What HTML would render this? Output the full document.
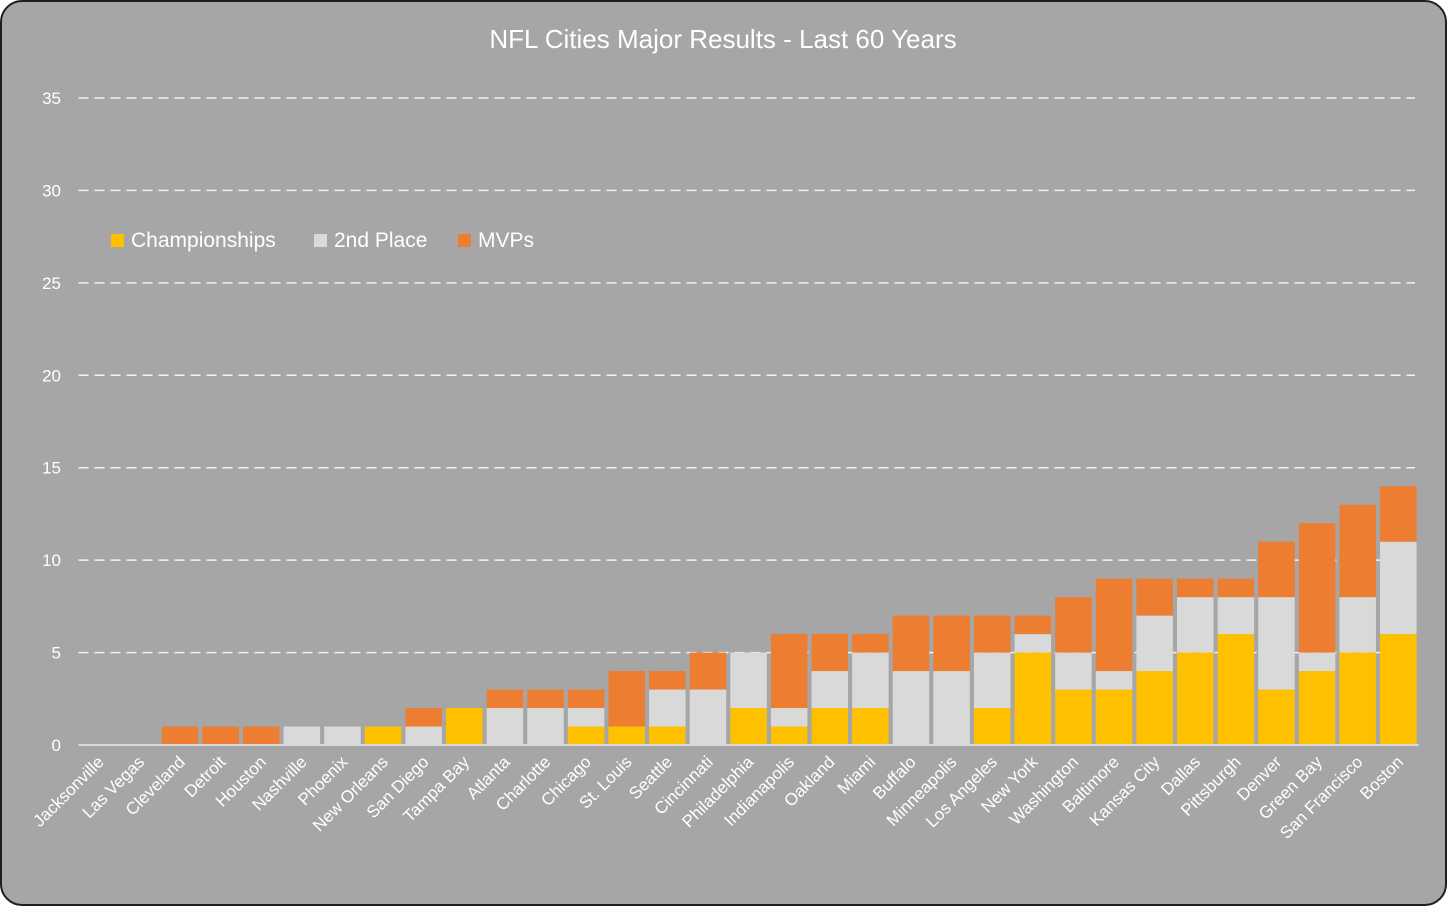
<!DOCTYPE html>
<html><head><meta charset="utf-8"><style>
html,body{margin:0;padding:0;background:#fff;}
#frame{position:absolute;left:0;top:0;width:1443px;height:902px;background:#a6a6a6;border:2px solid #1e1e1e;border-radius:22px;overflow:hidden;}
svg{position:absolute;left:-2px;top:-2px;}
text{font-family:"Liberation Sans",sans-serif;fill:#fff;}
</style></head><body>
<div id="frame">
<svg id="chart" width="1447" height="906"></svg>
</div>
<script>
const categories=["Jacksonville","Las Vegas","Cleveland","Detroit","Houston","Nashville","Phoenix","New Orleans","San Diego","Tampa Bay","Atlanta","Charlotte","Chicago","St. Louis","Seattle","Cincinnati","Philadelphia","Indianapolis","Oakland","Miami","Buffalo","Minneapolis","Los Angeles","New York","Washington","Baltimore","Kansas City","Dallas","Pittsburgh","Denver","Green Bay","San Francisco","Boston"];
const championships=[0,0,0,0,0,0,0,1,0,2,0,0,1,1,1,0,2,1,2,2,0,0,2,5,3,3,4,5,6,3,4,5,6];
const secondPlace=[0,0,0,0,0,1,1,0,1,0,2,2,1,0,2,3,3,1,2,3,4,4,3,1,2,1,3,3,2,5,1,3,5];
const mvps=[0,0,1,1,1,0,0,0,1,0,1,1,1,3,1,2,0,4,2,1,3,3,2,1,3,5,2,1,1,3,7,5,3];
const yTicks=[0,5,10,15,20,25,30,35];
const seriesNames=["Championships","2nd Place","MVPs"];
const colors=["#ffc000","#d9d9d9","#ed7d31"];
const svg=document.getElementById('chart');
const NS="http://www.w3.org/2000/svg";
const left=78.5,right=1418.6,y0=745,yTop=98,yMax=35;
const band=(right-left)/categories.length;
const bw=36.5;
function yS(v){return y0-(v/yMax)*(y0-yTop);}
function xC(i){return left+band*(i+0.5);}
function mk(tag,attrs){const e=document.createElementNS(NS,tag);for(const k in attrs)e.setAttribute(k,attrs[k]);svg.appendChild(e);return e;}
let t=mk('text',{x:723,y:48,'font-size':26,'text-anchor':'middle'});


t.textContent="NFL Cities Major Results - Last 60 Years";
yTicks.forEach(v=>{
  if(v>0){const l=mk('line',{x1:left,x2:1415,y1:yS(v),y2:yS(v),stroke:'#f2f2f2','stroke-width':1.5,'stroke-dasharray':'10,6'});
  
  }
  const tx=mk('text',{x:61,y:yS(v)+6,'font-size':17,'text-anchor':'end'});
  
  
  tx.textContent=v;
});
const series=[championships,secondPlace,mvps];
categories.forEach((c,i)=>{
  let base=0;
  series.forEach((s,k)=>{
    if(s[i]>0){
      const r=mk('rect',{x:xC(i)-bw/2,y:yS(base+s[i]),width:bw,height:yS(base)-yS(base+s[i]),fill:colors[k]});
      
      
    }
    base+=s[i];
  });
  const lb=mk('text',{x:0,y:0,'font-size':17,'text-anchor':'end',transform:'translate('+(xC(i)+6)+',763) rotate(-45)'});
  
  
  lb.textContent=c;
});
const ax=mk('line',{x1:left,x2:right,y1:y0,y2:y0,stroke:'#d9d9d9','stroke-width':2});


const lx=[111,314,458];
seriesNames.forEach((n,k)=>{
  const r=mk('rect',{x:lx[k],y:234,width:13,height:13,fill:colors[k]});
  
  
  const tx=mk('text',{x:lx[k]+20,y:247,'font-size':21});
  
  
  tx.textContent=n;
});
</script>
</body></html>
